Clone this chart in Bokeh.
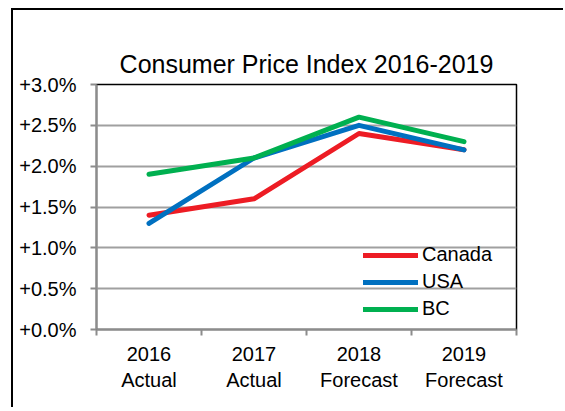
from bokeh.plotting import figure
from bokeh.models import FixedTicker, PrintfTickFormatter, Legend, LegendItem, Range1d
from bokeh.embed import file_html
from bokeh.resources import INLINE

categories = ["2016\nActual", "2017\nActual", "2018\nForecast", "2019\nForecast"]
canada = [1.4, 1.6, 2.4, 2.2]
usa = [1.3, 2.1, 2.5, 2.2]
bc = [1.9, 2.1, 2.6, 2.3]
y_ticks = [0.0, 0.5, 1.0, 1.5, 2.0, 2.5, 3.0]

FONT = "Liberation Sans"
xs = [i + 0.5 for i in range(len(categories))]

p = figure(width=552, height=399, output_backend="svg", toolbar_location=None,
           x_range=Range1d(0, len(categories)), y_range=Range1d(0, 3.0),
           title="Consumer Price Index 2016-2019")
# outer chart border (only its left and top edges fall inside the window)
p.styles = {"margin-left": "13px", "margin-top": "10px",
            "box-shadow": "-2px -2px 0px 0px black"}
p.min_border_left = 83
p.min_border_right = 49
p.min_border_top = 74
p.min_border_bottom = 80
p.background_fill_color = "white"
p.border_fill_color = "white"
p.outline_line_color = "black"
p.outline_line_width = 1.5

p.title.text_font = FONT
p.title.text_font_size = "25px"
p.title.text_font_style = "normal"
p.title.align = "center"
p.title.vertical_align = "top"
p.title.text_color = "black"
p.title.standoff = 10

# x axis
p.xaxis.ticker = FixedTicker(ticks=xs, minor_ticks=list(range(len(categories) + 1)))
p.xaxis.major_label_overrides = {x: c for x, c in zip(xs, categories)}
p.xaxis.major_tick_out = 0
p.xaxis.major_tick_in = 0
p.xaxis.minor_tick_out = 6
p.xaxis.minor_tick_in = 0
p.xaxis.minor_tick_line_color = "#8c8c8c"
p.xaxis.minor_tick_line_width = 2
p.xaxis.major_label_standoff = 7
p.xaxis.major_label_text_font = FONT
p.xaxis.major_label_text_font_size = "20px"
p.xaxis.major_label_text_color = "black"
p.xaxis.axis_line_color = "#8c8c8c"
p.xaxis.axis_line_width = 2

# y axis
p.yaxis.ticker = FixedTicker(ticks=y_ticks, minor_ticks=[])
p.yaxis.formatter = PrintfTickFormatter(format="+%.1f%%")
p.yaxis.major_tick_out = 6
p.yaxis.major_tick_in = 0
p.yaxis.major_tick_line_color = "#8c8c8c"
p.yaxis.major_tick_line_width = 2
p.yaxis.major_label_standoff = 14
p.yaxis.major_label_text_font = FONT
p.yaxis.major_label_text_font_size = "20px"
p.yaxis.major_label_text_color = "black"
p.yaxis.axis_line_color = "#8c8c8c"
p.yaxis.axis_line_width = 2

p.xgrid.grid_line_color = None
p.ygrid.grid_line_color = "#a0a0a0"
p.ygrid.grid_line_width = 2

series = [("Canada", canada, "#ED1C24"), ("USA", usa, "#0070C0"), ("BC", bc, "#00B050")]
items = []
for name, vals, col in series:
    r = p.line(xs, vals, line_color=col, line_width=5, line_cap="round", line_join="round")
    items.append(LegendItem(label=name, renderers=[r]))

legend = Legend(items=items, location=(267, 9))
legend.padding = 0
legend.margin = 0
legend.spacing = 4
legend.glyph_width = 55
legend.glyph_height = 20
legend.label_height = 20
legend.label_standoff = 4
legend.label_text_font = FONT
legend.label_text_font_size = "20px"
legend.label_text_color = "black"
legend.border_line_color = None
legend.background_fill_alpha = 0
p.add_layout(legend, "center")

open("out.html", "w").write(file_html(p, INLINE))
